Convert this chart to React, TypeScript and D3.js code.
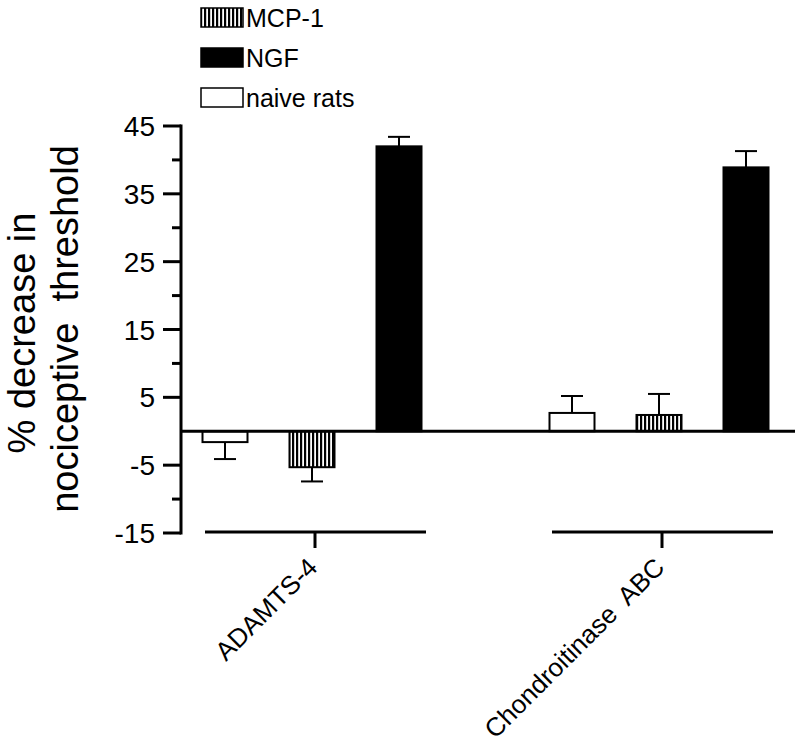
import React from "react";
import * as d3 from "d3";

const groups = ["ADAMTS-4", "Chondroitinase ABC"];
const series = ["naive rats", "MCP-1", "NGF"];
const legendOrder = ["MCP-1", "NGF", "naive rats"];
// values per group
const naiveValues = [-1.6, 2.7];
const mcpValues = [-5.3, 2.4];
const ngfValues = [42.0, 38.9];
const naiveErr = [2.5, 2.5];
const mcpErr = [2.1, 3.1];
const ngfErr = [1.4, 2.4];
const majorTicks = [45, 35, 25, 15, 5, -5, -15];
const minorTicks = [40, 30, 20, 10, -10];

const FONT = "'Liberation Sans', Arial, Helvetica, sans-serif";

export default function App() {
  const W = 800, H = 746;
  const axisX = 181;
  const y = d3.scaleLinear().domain([-15, 45]).range([533, 126]);
  const gx = d3.scaleBand<string>().domain(groups).range([138.5, 832.5]).padding(0);
  const sx = d3.scalePoint<string>().domain(series).range([-87, 87]);
  const barW = 45;
  const capW = 22;

  const valuesBySeries: Record<string, number[]> = {
    "naive rats": naiveValues,
    "MCP-1": mcpValues,
    NGF: ngfValues,
  };
  const errBySeries: Record<string, number[]> = {
    "naive rats": naiveErr,
    "MCP-1": mcpErr,
    NGF: ngfErr,
  };
  const fillFor = (s: string) =>
    s === "NGF" ? "#000" : s === "MCP-1" ? "url(#stripes)" : "#fff";

  const bars: any[] = [];
  groups.forEach((g, gi) => {
    const c = (gx(g) as number) + gx.bandwidth() / 2;
    series.forEach((s) => {
      const v = valuesBySeries[s][gi];
      const e = errBySeries[s][gi];
      const cx = c + (sx(s) as number);
      const y0 = y(0);
      const yv = y(v);
      const ye = y(v >= 0 ? v + e : v - e);
      bars.push(
        <g key={g + s}>
          <line x1={cx} x2={cx} y1={yv} y2={ye} stroke="#000" strokeWidth={2} />
          <line x1={cx - capW / 2} x2={cx + capW / 2} y1={ye} y2={ye} stroke="#000" strokeWidth={2} />
          <rect
            x={cx - barW / 2}
            y={Math.min(y0, yv)}
            width={barW}
            height={Math.abs(yv - y0)}
            fill={fillFor(s)}
            stroke="#000"
            strokeWidth={2}
          />
        </g>
      );
    });
  });

  const legendY: Record<string, number> = { "MCP-1": 8, NGF: 48, "naive rats": 88 };

  return (
    <svg
      width={W}
      height={H}
      style={{ position: "absolute", left: 0, top: 0, background: "#fff" }}
      fontFamily={FONT}
    >
      <defs>
        <pattern id="stripes" patternUnits="userSpaceOnUse" width={4} height={6}>
          <rect width={4} height={6} fill="#fff" />
          <rect x={0} width={2.2} height={6} fill="#000" />
        </pattern>
      </defs>
      <rect width={W} height={H} fill="#fff" />

      {/* legend */}
      {legendOrder.map((s) => (
        <g key={s}>
          <rect
            x={201}
            y={legendY[s]}
            width={42}
            height={19}
            fill={fillFor(s)}
            stroke="#000"
            strokeWidth={1.5}
          />
          <text x={246} y={legendY[s] + 19} fontSize={25} fill="#000">
            {s}
          </text>
        </g>
      ))}

      {/* bars */}
      {bars}

      {/* zero line */}
      <line x1={axisX} x2={795} y1={y(0)} y2={y(0)} stroke="#000" strokeWidth={3} />

      {/* y axis */}
      <line x1={axisX} x2={axisX} y1={y(45) - 1.5} y2={y(-15) + 1.5} stroke="#000" strokeWidth={3} />
      {majorTicks.map((t) => (
        <g key={"M" + t}>
          <line x1={axisX - 18} x2={axisX} y1={y(t)} y2={y(t)} stroke="#000" strokeWidth={3} />
          <text x={155} y={y(t) + 10} fontSize={28} textAnchor="end" fill="#000">
            {t}
          </text>
        </g>
      ))}
      {minorTicks.map((t) => (
        <line key={"m" + t} x1={axisX - 9} x2={axisX} y1={y(t)} y2={y(t)} stroke="#000" strokeWidth={3} />
      ))}

      {/* y title */}
      <text
        transform={`translate(35,333) rotate(-90)`}
        fontSize={38}
        textAnchor="middle"
        fill="#000"
      >
        % decrease in
      </text>
      <text
        transform={`translate(78,329) rotate(-90)`}
        fontSize={38}
        textAnchor="middle"
        fill="#000"
        style={{ whiteSpace: "pre" }}
      >
        {"nociceptive  threshold"}
      </text>

      {/* category lines and labels */}
      {groups.map((g) => {
        const c = (gx(g) as number) + gx.bandwidth() / 2;
        const tx = c + 3;
        return (
          <g key={"cat" + g}>
            <line x1={c - 107} x2={c + 114} y1={532} y2={532} stroke="#000" strokeWidth={3} />
            <line x1={tx} x2={tx} y1={532} y2={548} stroke="#000" strokeWidth={3} />
            <text
              transform={`translate(${tx + 4},${569}) rotate(-45)`}
              fontSize={26}
              textAnchor="end"
              fill="#000"
              style={{ whiteSpace: "pre" }}
            >
              {g === "Chondroitinase ABC" ? "Chondroitinase  ABC" : g}
            </text>
          </g>
        );
      })}
    </svg>
  );
}
